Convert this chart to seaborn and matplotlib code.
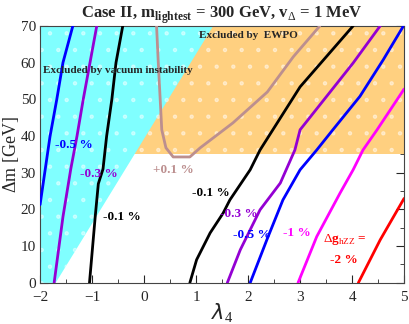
import numpy as np
import pandas as pd
import seaborn as sns
import matplotlib.pyplot as plt

# excluded regions
vac_lam = [-2.0, -1.7, 1.33, -2.0]
vac_dm = [0, 0, 70, 70]
ewpo_dm_min = 35

# contours of Delta g_hZZ (lambda_4, Delta m)
curves = {
    'm05_left': ([-2.0, -1.81, -1.68, -1.56, -1.37], [21.3, 39.8, 49.9, 60.0, 70.0], '#0000ff'),
    'm03_left': ([-1.73, -1.56, -1.41, -1.29, -1.17, -1.04, -0.91], [0, 18, 31, 40, 50, 60, 70], '#9400d3'),
    'm01_left': ([-1.05, -0.94, -0.88, -0.79, -0.72, -0.62, -0.54, -0.41], [0, 18, 27, 31, 40, 50, 60, 70], 'black'),
    'p01': ([0.24, 0.27, 0.31, 0.34, 0.42, 0.56, 0.88, 1.08, 1.46, 1.71, 2.37, 2.87, 3.38],
            [70, 60.8, 49.9, 41.7, 36.8, 34.3, 34.3, 36.8, 40.9, 43.6, 52.0, 61.6, 70], '#bc8f8f'),
    'm01_right': ([0.88, 1.01, 1.27, 1.52, 1.65, 2.04, 2.23, 3.0, 4.02], [0, 6.3, 13.6, 19, 22.6, 30.8, 36.2, 53.4, 70], 'black'),
    'm03_right': ([1.60, 1.85, 2.23, 2.62, 2.90, 3.0, 3.51, 4.02, 4.54], [0, 9.0, 19.9, 27.2, 36.2, 41.7, 50.8, 59.9, 70], '#9400d3'),
    'm05_right': ([2.04, 2.36, 2.67, 3.0, 3.32, 3.63, 4.15, 4.60, 4.98], [0, 11.7, 22.6, 30.8, 36.2, 41.7, 50.8, 60.8, 69.8], '#0000ff'),
    'm1': ([2.96, 3.32, 3.77, 4.02, 4.21, 4.48, 5.0], [0, 12.6, 24.5, 30.8, 36.2, 41.7, 52.8], '#ff00ff'),
    'm2': ([4.12, 4.54, 5.0], [0, 11.7, 23.0], '#ff0000'),
}

labels = [
    (-1.71, 36.8, '-0.5 %', '#0000ff'),
    (-1.23, 28.9, '-0.3 %', '#9400d3'),
    (-0.79, 17.2, '-0.1 %', 'black'),
    (0.17, 30.0, '+0.1 %', '#bc8f8f'),
    (0.92, 23.7, '-0.1 %', 'black'),
    (1.46, 18.0, '-0.3 %', '#9400d3'),
    (1.71, 12.3, '-0.5 %', '#0000ff'),
    (2.67, 12.8, '-1 %', '#ff00ff'),
    (3.44, 11.2, r'$\Delta$g$_{\rm hZZ}$ =', '#ff0000'),
    (3.58, 5.4, '-2 %', '#ff0000'),
]

sns.set_style("ticks")
plt.rcParams['font.family'] = ['Liberation Serif', 'DejaVu Serif']
plt.rcParams['mathtext.fontset'] = 'custom'
plt.rcParams['mathtext.rm'] = 'Liberation Serif'
plt.rcParams['mathtext.bf'] = 'Liberation Serif:bold'
plt.rcParams['hatch.linewidth'] = 0.8

fig = plt.figure(figsize=(4.09, 3.24), dpi=100)
ax = fig.add_axes([0.098, 0.127, 0.89, 0.793])

# EWPO region, then vacuum instability on top (faint white dot pattern)
dots = (1, 1, 1, 0.45)
ax.fill_between([-2, 5], ewpo_dm_min, 70, facecolor='#ffd080', edgecolor=dots, hatch='.', linewidth=0, zorder=1)
ax.fill(vac_lam, vac_dm, facecolor='#80ffff', edgecolor=dots, hatch='.', linewidth=0, zorder=2)

for name, (lam, dm, col) in curves.items():
    df = pd.DataFrame({'lam': lam, 'dm': dm})
    sns.lineplot(data=df, x='lam', y='dm', sort=False, color=col, linewidth=2.0, ax=ax, zorder=3)

for x, y, t, col in labels:
    ax.text(x, y, t, color=col, fontsize=9.5, fontweight='bold', zorder=4)

ax.text(-1.94, 57.2, 'Excluded by vacuum instability', fontsize=8, fontweight='bold', zorder=4)
ax.text(1.06, 66.7, 'Excluded by  EWPO', fontsize=8, fontweight='bold', zorder=4)

ax.set_xlim(-2, 5)
ax.set_ylim(0, 70)
ax.set_xticks(range(-2, 6))
ax.set_xticks(np.arange(-2, 5.01, 0.5), minor=True)
ax.set_yticks(range(0, 71, 10))
ax.set_yticks(range(0, 71, 5), minor=True)
ax.tick_params(which='both', direction='in', top=True, right=True, labelsize=11)
ax.tick_params(axis='x', pad=6)
ax.tick_params(axis='y', pad=3)
ax.tick_params(which='major', length=6)
ax.tick_params(which='minor', length=3)
for s in ax.spines.values():
    s.set_linewidth(0.8)
    s.set_color('#444444')

ax.set_xlabel(r'$\lambda_4$', fontsize=15, labelpad=-2)
ax.set_ylabel(r'$\Delta$m [GeV]', fontsize=13, labelpad=0)
ax.set_title(r'Case II, m$_{\rm \bf lightest}$ = 300 GeV, v$_{\Delta}$ = 1 MeV', fontsize=12, fontweight='bold', pad=5)

fig.savefig('out.png', dpi=100)
